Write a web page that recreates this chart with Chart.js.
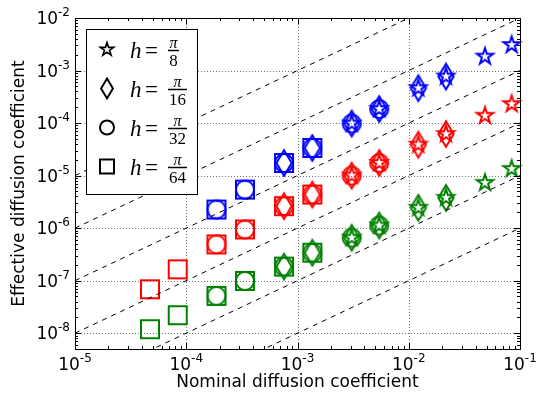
<!DOCTYPE html>
<html>
<head>
<meta charset="utf-8">
<script src="https://cdn.jsdelivr.net/npm/chart.js@4.4.1/dist/chart.umd.min.js"></script>
<style>
  html, body { margin: 0; padding: 0; background: #fff; }
  #wrap { width: 537px; height: 394px; position: relative; }
</style>
</head>
<body>
<div id="wrap"><canvas id="chart"></canvas></div>
<script>
// nominal diffusion coefficient of every measured point
const nominal = [4.72e-5, 8.38e-5, 1.87e-4, 3.37e-4, 7.57e-4, 1.36e-3, 3.07e-3, 5.43e-3, 1.22e-2, 2.16e-2, 4.84e-2, 8.41e-2];

// effective diffusion coefficient, one array per colour (null = no point)
const effBlue  = [null, null, 2.26e-6, 5.42e-6, 1.74e-5, 3.36e-5, 9.8e-5, 1.85e-4, 4.62e-4, 7.69e-4, 1.84e-3, 3.07e-3];
const effRed   = [6.85e-8, 1.64e-7, 4.90e-7, 9.44e-7, 2.62e-6, 4.36e-6, 1.0e-5, 1.74e-5, 3.88e-5, 6.19e-5, 1.38e-4, 2.30e-4];
const effGreen = [1.19e-8, 2.20e-8, 5.12e-8, 9.86e-8, 1.85e-7, 3.40e-7, 6.56e-7, 1.12e-6, 2.44e-6, 3.77e-6, 7.27e-6, 1.34e-5];

// h = pi / n : marker and the run of points (first index) each one covers
const hDenoms  = ['8', '16', '32', '64'];
const hMarkers = ['star', 'diamond', 'circle', 'square'];
const hStart   = [6, 4, 2, 0];
const hCount   = 6;

// dashed reference lines, start and end points
const guideX0 = [1e-5, 1e-5, 1e-5, 1e-5, 1e-5, 1e-4];
const guideY0 = [1e-5, 1e-6, 1e-7, 1e-8, 1e-9, 1e-9];
const guideX1 = [1e-2, 1e-1, 1e-1, 1e-1, 1e-1, 1e-1];
const guideY1 = [1e-2, 1e-2, 1e-3, 1e-4, 1e-5, 1e-6];

// axis ticks
const xExps = [-5, -4, -3, -2, -1];
const yExps = [-8, -7, -6, -5, -4, -3, -2];

const colours = [
  { ys: effBlue,  c: '#0000ff' },
  { ys: effRed,   c: '#ff0000' },
  { ys: effGreen, c: '#008000' }
];

const SANS = '"DejaVu Sans", sans-serif';
const SERIF = '"Liberation Serif", "DejaVu Serif", serif';

// outline of a matplotlib style marker
function traceShape(ctx, shape, cx, cy, s) {
  ctx.beginPath();
  if (shape === 'circle') {
    ctx.arc(cx, cy, s / 2, 0, Math.PI * 2);
  } else if (shape === 'square') {
    ctx.rect(cx - s / 2, cy - s / 2, s, s);
  } else if (shape === 'diamond') {
    const hh = s * 0.707, hw = hh * 0.6;
    ctx.moveTo(cx, cy - hh);
    ctx.lineTo(cx + hw, cy);
    ctx.lineTo(cx, cy + hh);
    ctx.lineTo(cx - hw, cy);
    ctx.closePath();
  } else {
    const ro = s / 2, ri = ro * 0.381966;
    for (let i = 0; i < 10; i++) {
      const r = i % 2 ? ri : ro;
      const a = -Math.PI / 2 + i * Math.PI / 5;
      const px = cx + r * Math.cos(a), py = cy + r * Math.sin(a);
      if (i === 0) ctx.moveTo(px, py); else ctx.lineTo(px, py);
    }
    ctx.closePath();
  }
}

function markerSize(shape, legend) {
  if (shape === 'star') return legend ? 14 : 17;
  return legend ? 14 : 18;
}

function makeMarker(shape, colour) {
  const s = markerSize(shape, false);
  const dim = 32;
  const cv = document.createElement('canvas');
  cv.width = dim; cv.height = dim;
  const ctx = cv.getContext('2d');
  ctx.strokeStyle = colour;
  ctx.lineWidth = 2;
  ctx.lineJoin = 'miter';
  traceShape(ctx, shape, dim / 2, dim / 2, s);
  ctx.stroke();
  return cv;
}

const datasets = [];
guideX0.forEach((x0, i) => {
  datasets.push({
    data: [{ x: x0, y: guideY0[i] }, { x: guideX1[i], y: guideY1[i] }],
    showLine: true,
    borderColor: '#000',
    borderWidth: 1,
    borderDash: [5, 5],
    pointRadius: 0
  });
});
colours.forEach(col => {
  hMarkers.forEach((shape, k) => {
    const pts = [];
    for (let i = hStart[k]; i < hStart[k] + hCount; i++) {
      if (col.ys[i] != null) pts.push({ x: nominal[i], y: col.ys[i] });
    }
    datasets.push({
      data: pts,
      pointStyle: makeMarker(shape, col.c),
      pointRadius: 9,
      clip: false
    });
  });
});

function drawPow(ctx, exp, x, baseY, align) {
  ctx.font = '17px ' + SANS;
  const wb = ctx.measureText('10').width;
  ctx.font = '12px ' + SANS;
  const sup = '-' + Math.abs(exp);
  const ws = ctx.measureText(sup).width;
  const total = wb + ws;
  const start = align === 'center' ? x - total / 2 : x - total;
  ctx.textAlign = 'left';
  ctx.textBaseline = 'alphabetic';
  ctx.font = '17px ' + SANS;
  ctx.fillText('10', start, baseY);
  ctx.font = '12px ' + SANS;
  ctx.fillText(sup, start + wb, baseY - 8);
}

const framePlugin = {
  id: 'frame',
  beforeDatasetsDraw(chart) {
    const { ctx, chartArea: a, scales: { x, y } } = chart;
    ctx.save();
    ctx.strokeStyle = 'rgba(0,0,0,0.55)';
    ctx.lineWidth = 1;
    ctx.setLineDash([1, 2]);
    xExps.slice(1, -1).forEach(e => {
      const px = Math.round(x.getPixelForValue(Math.pow(10, e))) + 0.5;
      ctx.beginPath(); ctx.moveTo(px, a.top); ctx.lineTo(px, a.bottom); ctx.stroke();
    });
    yExps.slice(0, -1).forEach(e => {
      const py = Math.round(y.getPixelForValue(Math.pow(10, e))) + 0.5;
      ctx.beginPath(); ctx.moveTo(a.left, py); ctx.lineTo(a.right, py); ctx.stroke();
    });
    ctx.restore();
  },
  afterDatasetsDraw(chart) {
    const { ctx, chartArea: a, scales: { x, y } } = chart;
    ctx.save();
    ctx.strokeStyle = '#000';
    ctx.lineWidth = 1;
    ctx.setLineDash([]);
    // ticks on all four sides, pointing inwards
    ctx.beginPath();
    for (let e = -5; e <= -1; e++) {
      for (let m = 1; m <= 9; m++) {
        const v = m * Math.pow(10, e);
        if (v > 0.1 * 1.0001) break;
        const px = Math.round(x.getPixelForValue(v)) + 0.5;
        const len = m === 1 ? 6 : 3;
        ctx.moveTo(px, a.bottom); ctx.lineTo(px, a.bottom - len);
        ctx.moveTo(px, a.top); ctx.lineTo(px, a.top + len);
      }
    }
    for (let e = -9; e <= -2; e++) {
      for (let m = 1; m <= 9; m++) {
        const v = m * Math.pow(10, e);
        if (v < y.min || v > y.max * 1.0001) continue;
        const py = Math.round(y.getPixelForValue(v)) + 0.5;
        const len = m === 1 ? 6 : 3;
        ctx.moveTo(a.left, py); ctx.lineTo(a.left + len, py);
        ctx.moveTo(a.right, py); ctx.lineTo(a.right - len, py);
      }
    }
    ctx.stroke();
    ctx.strokeRect(Math.round(a.left) + 0.5, Math.round(a.top) + 0.5,
      Math.round(a.right - a.left), Math.round(a.bottom - a.top));

    // tick labels
    ctx.fillStyle = '#000';
    xExps.forEach(e => drawPow(ctx, e, x.getPixelForValue(Math.pow(10, e)), a.bottom + 21, 'center'));
    yExps.forEach(e => drawPow(ctx, e, a.left - 5, y.getPixelForValue(Math.pow(10, e)) + 6, 'right'));

    // axis titles
    ctx.font = '17px ' + SANS;
    ctx.textAlign = 'center';
    ctx.textBaseline = 'middle';
    ctx.fillText('Nominal diffusion coefficient', (a.left + a.right) / 2, 383);
    ctx.translate(20, (a.top + a.bottom) / 2);
    ctx.rotate(-Math.PI / 2);
    ctx.fillText('Effective diffusion coefficient', 0, 0);
    ctx.restore();

    // legend box
    ctx.save();
    const lx = 86.5, ly = 29.5, lw = 111, lh = 165;
    ctx.fillStyle = '#fff';
    ctx.fillRect(lx, ly, lw, lh);
    ctx.strokeStyle = '#000';
    ctx.lineWidth = 1;
    ctx.strokeRect(lx, ly, lw, lh);
    hMarkers.forEach((shape, k) => {
      const cy = 49.5 + k * 39;
      ctx.strokeStyle = '#000';
      ctx.lineWidth = shape === 'star' ? 1.6 : 2;
      traceShape(ctx, shape, 107, cy, markerSize(shape, true));
      ctx.stroke();

      ctx.fillStyle = '#000';
      ctx.textBaseline = 'alphabetic';
      ctx.textAlign = 'left';
      ctx.font = 'italic 23px ' + SERIF;
      ctx.fillText('h', 130, cy + 8);
      ctx.font = '23px ' + SERIF;
      ctx.fillText('=', 145, cy + 8);

      ctx.font = '17px ' + SERIF;
      const dw = ctx.measureText(hDenoms[k]).width;
      const bw = Math.max(dw + 2, 11);
      const bx = 168, by = cy + 1;
      ctx.fillRect(bx, by - 0.75, bw, 1.5);
      ctx.textAlign = 'center';
      ctx.fillText(hDenoms[k], bx + bw / 2, by + 15);
      ctx.font = 'italic 16px ' + SERIF;
      ctx.fillText('\u03c0', bx + bw / 2, by - 3);
    });
    ctx.restore();
  }
};

new Chart(document.getElementById('chart'), {
  type: 'scatter',
  data: { datasets },
  options: {
    responsive: true,
    maintainAspectRatio: false,
    animation: false,
    layout: { padding: { left: 75, right: 17, top: 18, bottom: 45 } },
    scales: {
      x: { type: 'logarithmic', min: 1e-5, max: 1e-1, display: false },
      y: { type: 'logarithmic', min: 5e-9, max: 1e-2, display: false }
    },
    plugins: {
      legend: { display: false },
      tooltip: { enabled: false }
    }
  },
  plugins: [framePlugin]
});
</script>
</body>
</html>
